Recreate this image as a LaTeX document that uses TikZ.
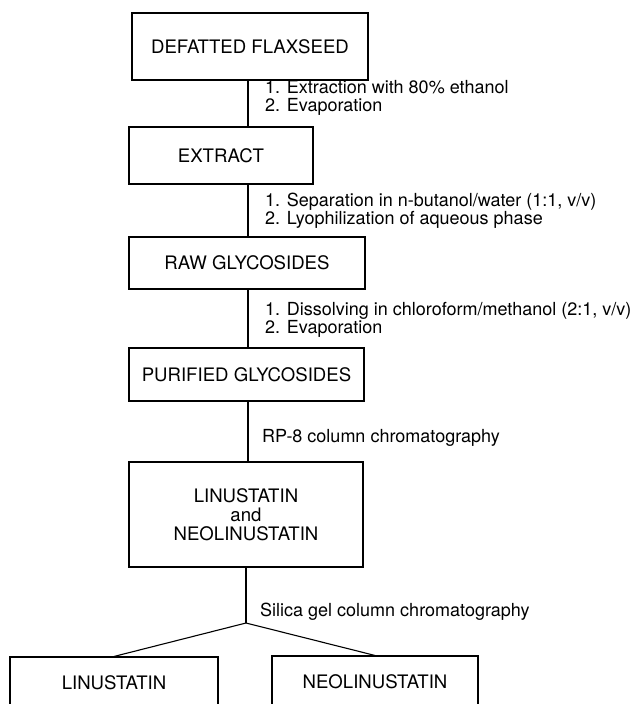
\documentclass[tikz,border=0pt]{standalone}
\usepackage{fontspec}
\setmainfont{TeX Gyre Heros}
\begin{document}
\begin{tikzpicture}[x=1pt,y=-1pt,
        stage/.style={draw,line width=1.1pt,inner sep=0pt,align=center,
            font=\fontsize{18.6}{19}\selectfont},
        steps/.style={anchor=west,align=left,inner sep=0pt,
            font=\fontsize{18}{18}\selectfont},
        link/.style={line width=1.1pt}]
    \useasboundingbox (0,0) rectangle (637,704);
    \clip (0,0) rectangle (637,704);
    \coordinate (spine) at (248,0);
    % stages
    \node[stage,minimum width=236pt,minimum height=67pt] (flax) at (250,46.5) {DEFATTED FLAXSEED};
    \node[stage,minimum width=184pt,minimum height=57pt] (extract) at (221,155.5) {EXTRACT};
    \node[stage,minimum width=236pt,minimum height=52pt] (raw) at (247,263) {RAW GLYCOSIDES};
    \node[stage,minimum width=235pt,minimum height=53pt] (pure) at (246.5,374.5) {PURIFIED GLYCOSIDES};
    \node[stage,minimum width=234pt,minimum height=105pt] (mix) at (246,514.5) {LINUSTATIN\\and\\NEOLINUSTATIN};
    \node[stage,minimum width=208pt,minimum height=52pt] (lin) at (114,683) {LINUSTATIN};
    \node[stage,minimum width=206pt,minimum height=52pt] (neo) at (375,682) {NEOLINUSTATIN};
    \coordinate (fork) at (246,623);
    % connectors
    \draw[link] (flax.south -| spine) -- (extract.north -| spine);
    \draw[link] (extract.south -| spine) -- (raw.north -| spine);
    \draw[link] (raw.south -| spine) -- (pure.north -| spine);
    \draw[link] (pure.south -| spine) -- (mix.north -| spine);
    \draw[link] (mix.south -| fork) -- (fork);
    \draw[link] (lin.north) -- (fork) -- (neo.north);
    % treatment steps
    \node[steps] (s1) at (265,98) {1. Extraction with 80\% ethanol\\2. Evaporation};
    \node[steps] (s2) at (265,211) {1. Separation in n-butanol/water (1:1, v/v)\\2. Lyophilization of aqueous phase};
    \node[steps] (s3) at (265,320) {1. Dissolving in chloroform/methanol (2:1, v/v)\\2. Evaporation};
    \node[steps] (s4) at (262,438) {RP-8 column chromatography};
    \node[steps] (s5) at (260,612) {Silica gel column chromatography};
\end{tikzpicture}
\end{document}
